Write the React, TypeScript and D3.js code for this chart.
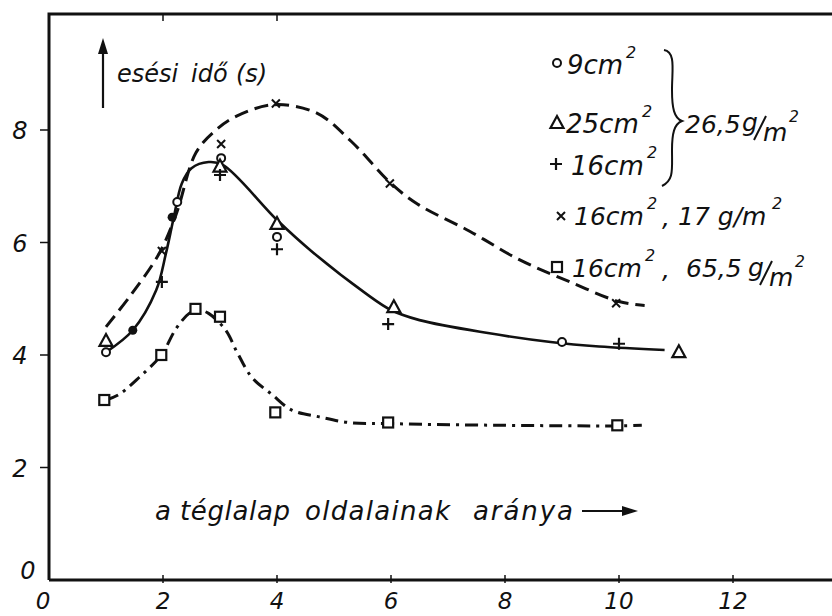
import * as d3 from "d3";

const xTicks = [2, 4, 6, 8, 10, 12];
const yTicks = [2, 4, 6, 8];

// markers: [aspect ratio, fall time s]
const circlePts: [number, number][] = [[1, 4.05], [2.25, 6.72], [3.02, 7.5], [4, 6.1], [9, 4.23]];
const trianglePts: [number, number][] = [[1, 4.25], [3, 7.35], [4, 6.33], [6.05, 4.85], [11.05, 4.05]];
const plusPts: [number, number][] = [[1.98, 5.3], [3, 7.2], [4, 5.88], [5.95, 4.55], [10, 4.2]];
const crossPts: [number, number][] = [[1.98, 5.85], [3.02, 7.75], [3.98, 8.47], [5.98, 7.05], [9.95, 4.92]];
const squarePts: [number, number][] = [[0.97, 3.2], [1.97, 4.0], [2.57, 4.82], [3, 4.68], [3.97, 2.98], [5.95, 2.8], [9.97, 2.75]];
const dotPts: [number, number][] = [[1.47, 4.44], [2.16, 6.45]];

// hand drawn curves
const solidCurve: [number, number][] = [
  [1.0, 4.05], [1.47, 4.44], [1.88, 5.15], [2.05, 5.8], [2.19, 6.45], [2.33, 7.05], [2.5, 7.32],
  [2.8, 7.43], [3.05, 7.38], [4.0, 6.4], [4.6, 5.85], [5.55, 5.1], [6.0, 4.8], [6.5, 4.62],
  [7.7, 4.39], [8.8, 4.23], [9.65, 4.15], [10.8, 4.09],
];
const dashedCurve: [number, number][] = [
  [1.0, 4.5], [1.46, 5.1], [1.93, 5.8], [2.23, 6.5], [2.58, 7.6], [2.93, 8.0], [3.3, 8.25],
  [3.95, 8.45], [4.7, 8.3], [5.3, 7.8], [6.0, 7.05], [6.47, 6.68], [7.38, 6.2], [8.26, 5.69],
  [9.14, 5.3], [10.0, 4.95], [10.45, 4.88],
];
const dashDotCurve: [number, number][] = [
  [1, 3.2], [1.23, 3.3], [1.58, 3.6], [1.97, 4.0], [2.23, 4.47], [2.46, 4.74], [2.62, 4.8],
  [2.8, 4.74], [3.1, 4.44], [3.3, 4.05], [3.56, 3.6], [3.91, 3.3], [4.26, 3.02], [4.74, 2.9],
  [5.26, 2.8], [6, 2.78], [7.07, 2.76], [10, 2.74], [10.4, 2.75],
];

const ink = "#111";
const font = "'DejaVu Sans', 'Liberation Sans', sans-serif";

function Marker({ kind, cx, cy }: { kind: string; cx: number; cy: number }) {
  if (kind === "circle") return <circle cx={cx} cy={cy} r={4} fill="white" stroke={ink} strokeWidth={2} />;
  if (kind === "dot") return <circle cx={cx} cy={cy} r={4.5} fill={ink} />;
  if (kind === "square") return <rect x={cx - 5} y={cy - 5} width={10} height={10} fill="white" stroke={ink} strokeWidth={2.2} />;
  if (kind === "triangle")
    return <path d={`M${cx},${cy - 7}L${cx + 6.5},${cy + 5}L${cx - 6.5},${cy + 5}Z`} fill="white" stroke={ink} strokeWidth={2.2} />;
  if (kind === "plus")
    return <path d={`M${cx - 6},${cy}H${cx + 6}M${cx},${cy - 6}V${cy + 6}`} stroke={ink} strokeWidth={2.2} />;
  return <path d={`M${cx - 4},${cy - 4}L${cx + 4},${cy + 4}M${cx + 4},${cy - 4}L${cx - 4},${cy + 4}`} stroke={ink} strokeWidth={2} />;
}

const textStyle = { fontFamily: font, fontStyle: "italic" as const, fill: ink };

// "g/m²" written as a small fraction, as in the original lettering
function GPerM2({ x, y, size = 25 }: { x: number; y: number; size?: number }) {
  return (
    <g>
      <text x={x} y={y} fontSize={size} {...textStyle}>g</text>
      <line x1={x + 12} y1={y + 9} x2={x + 24} y2={y - 15} stroke={ink} strokeWidth={2} />
      <text x={x + 21} y={y + 10} fontSize={size} {...textStyle}>m</text>
      <text x={x + 47} y={y - 9} fontSize={size * 0.62} {...textStyle}>2</text>
    </g>
  );
}

function Sq({ x, y }: { x: number; y: number }) {
  return <text x={x} y={y} fontSize={16} {...textStyle}>2</text>;
}

export default function App() {
  const width = 832;
  const height = 616;
  const x = d3.scaleLinear().domain([0, 12]).range([49, 733]);
  const y = d3.scaleLinear().domain([0, 8]).range([580, 130]);
  const line = d3
    .line<[number, number]>()
    .x((d) => x(d[0]))
    .y((d) => y(d[1]))
    .curve(d3.curveCatmullRom.alpha(0.5));

  const x0 = x(0);
  const y0 = y(0);
  const top = 14;

  const series: [string, [number, number][]][] = [
    ["circle", circlePts],
    ["triangle", trianglePts],
    ["plus", plusPts],
    ["cross", crossPts],
    ["square", squarePts],
    ["dot", dotPts],
  ];

  return (
    <svg width={width} height={height} style={{ position: "absolute", left: 0, top: 0, background: "white" }}>
      {/* frame */}
      <path d={`M${x0},${y0}V${top}H${width}`} fill="none" stroke={ink} strokeWidth={3} />
      <line x1={x0} x2={width} y1={y0} y2={y0} stroke={ink} strokeWidth={3} />
      {[2, 4].map((t) => (
        <line key={"tt" + t} x1={x(t)} x2={x(t)} y1={top} y2={top + 7} stroke={ink} strokeWidth={1.5} />
      ))}

      {/* y ticks */}
      {yTicks.map((t) => (
        <g key={"y" + t}>
          <line x1={x0 - 9} x2={x0} y1={y(t)} y2={y(t)} stroke={ink} strokeWidth={1.5} />
          <text x={20} y={y(t) + 9} fontSize={24} textAnchor="middle" {...textStyle}>{t}</text>
        </g>
      ))}
      <text x={28} y={y0 - 1} fontSize={24} textAnchor="middle" {...textStyle}>0</text>

      {/* x ticks */}
      {xTicks.map((t) => (
        <g key={"x" + t}>
          <line x1={x(t)} x2={x(t)} y1={y0 - 5} y2={y0 + 3} stroke={ink} strokeWidth={1.5} />
          <text x={x(t)} y={609} fontSize={23} textAnchor="middle" {...textStyle}>{t}</text>
        </g>
      ))}
      <text x={43} y={609} fontSize={23} textAnchor="middle" {...textStyle}>0</text>

      {/* curves */}
      <path d={line(dashedCurve) ?? ""} fill="none" stroke={ink} strokeWidth={3} strokeDasharray="14 7" />
      <path d={line(solidCurve) ?? ""} fill="none" stroke={ink} strokeWidth={2.6} />
      <path d={line(dashDotCurve) ?? ""} fill="none" stroke={ink} strokeWidth={3} strokeDasharray="13 6 3 6" />

      {/* markers */}
      {series.map(([kind, pts]) =>
        pts.map((p, i) => <Marker key={kind + i} kind={kind} cx={x(p[0])} cy={y(p[1])} />)
      )}

      {/* y title with arrow */}
      <line x1={103} x2={103} y1={108} y2={50} stroke={ink} strokeWidth={2.2} />
      <path d="M98,54L103,38L108,54Z" fill={ink} />
      <text y={82} fontSize={24} {...textStyle}>
        <tspan x={117}>esési</tspan>
        <tspan x={191}>idő</tspan>
        <tspan x={236}>(s)</tspan>
      </text>

      {/* x title with arrow */}
      <text y={520} fontSize={26} {...textStyle}>
        <tspan x={155}>a</tspan>
        <tspan x={180} textLength={110} lengthAdjust="spacing">téglalap</tspan>
        <tspan x={305} textLength={145} lengthAdjust="spacing">oldalainak</tspan>
        <tspan x={473} textLength={100} lengthAdjust="spacing">aránya</tspan>
      </text>
      <line x1={582} x2={628} y1={511} y2={511} stroke={ink} strokeWidth={2} />
      <path d="M622,506L638,511L622,516Z" fill={ink} />

      {/* legend */}
      <Marker kind="circle" cx={557} cy={63} />
      <text x={567} y={74} fontSize={26} {...textStyle}>9cm</text>
      <Sq x={626} y={58} />
      <Marker kind="triangle" cx={557} cy={123} />
      <text x={566} y={133} fontSize={26} {...textStyle}>25cm</text>
      <Sq x={642} y={117} />
      <Marker kind="plus" cx={556} cy={164} />
      <text x={571} y={175} fontSize={26} {...textStyle}>16cm</text>
      <Sq x={647} y={158} />
      <path d="M664,50 C676,52 672,70 672,90 C672,108 674,118 682,121 C674,124 672,134 672,150 C672,170 674,180 662,186"
        fill="none" stroke={ink} strokeWidth={2} />
      <text x={685} y={133} fontSize={25} {...textStyle}>26,5</text>
      <GPerM2 x={742} y={131} />

      <Marker kind="cross" cx={561} cy={216} />
      <text x={574} y={225} fontSize={25} {...textStyle}>16cm</text>
      <Sq x={647} y={209} />
      <text x={662} y={226} fontSize={25} {...textStyle}>,</text>
      <text x={678} y={225} fontSize={25} {...textStyle}>17 g/m</text>
      <Sq x={772} y={209} />
      <Marker kind="square" cx={557} cy={267} />
      <text x={572} y={277} fontSize={25} {...textStyle}>16cm</text>
      <Sq x={645} y={261} />
      <text x={662} y={278} fontSize={25} {...textStyle}>,</text>
      <text x={686} y={277} fontSize={25} {...textStyle}>65,5</text>
      <GPerM2 x={748} y={276} />
    </svg>
  );
}
